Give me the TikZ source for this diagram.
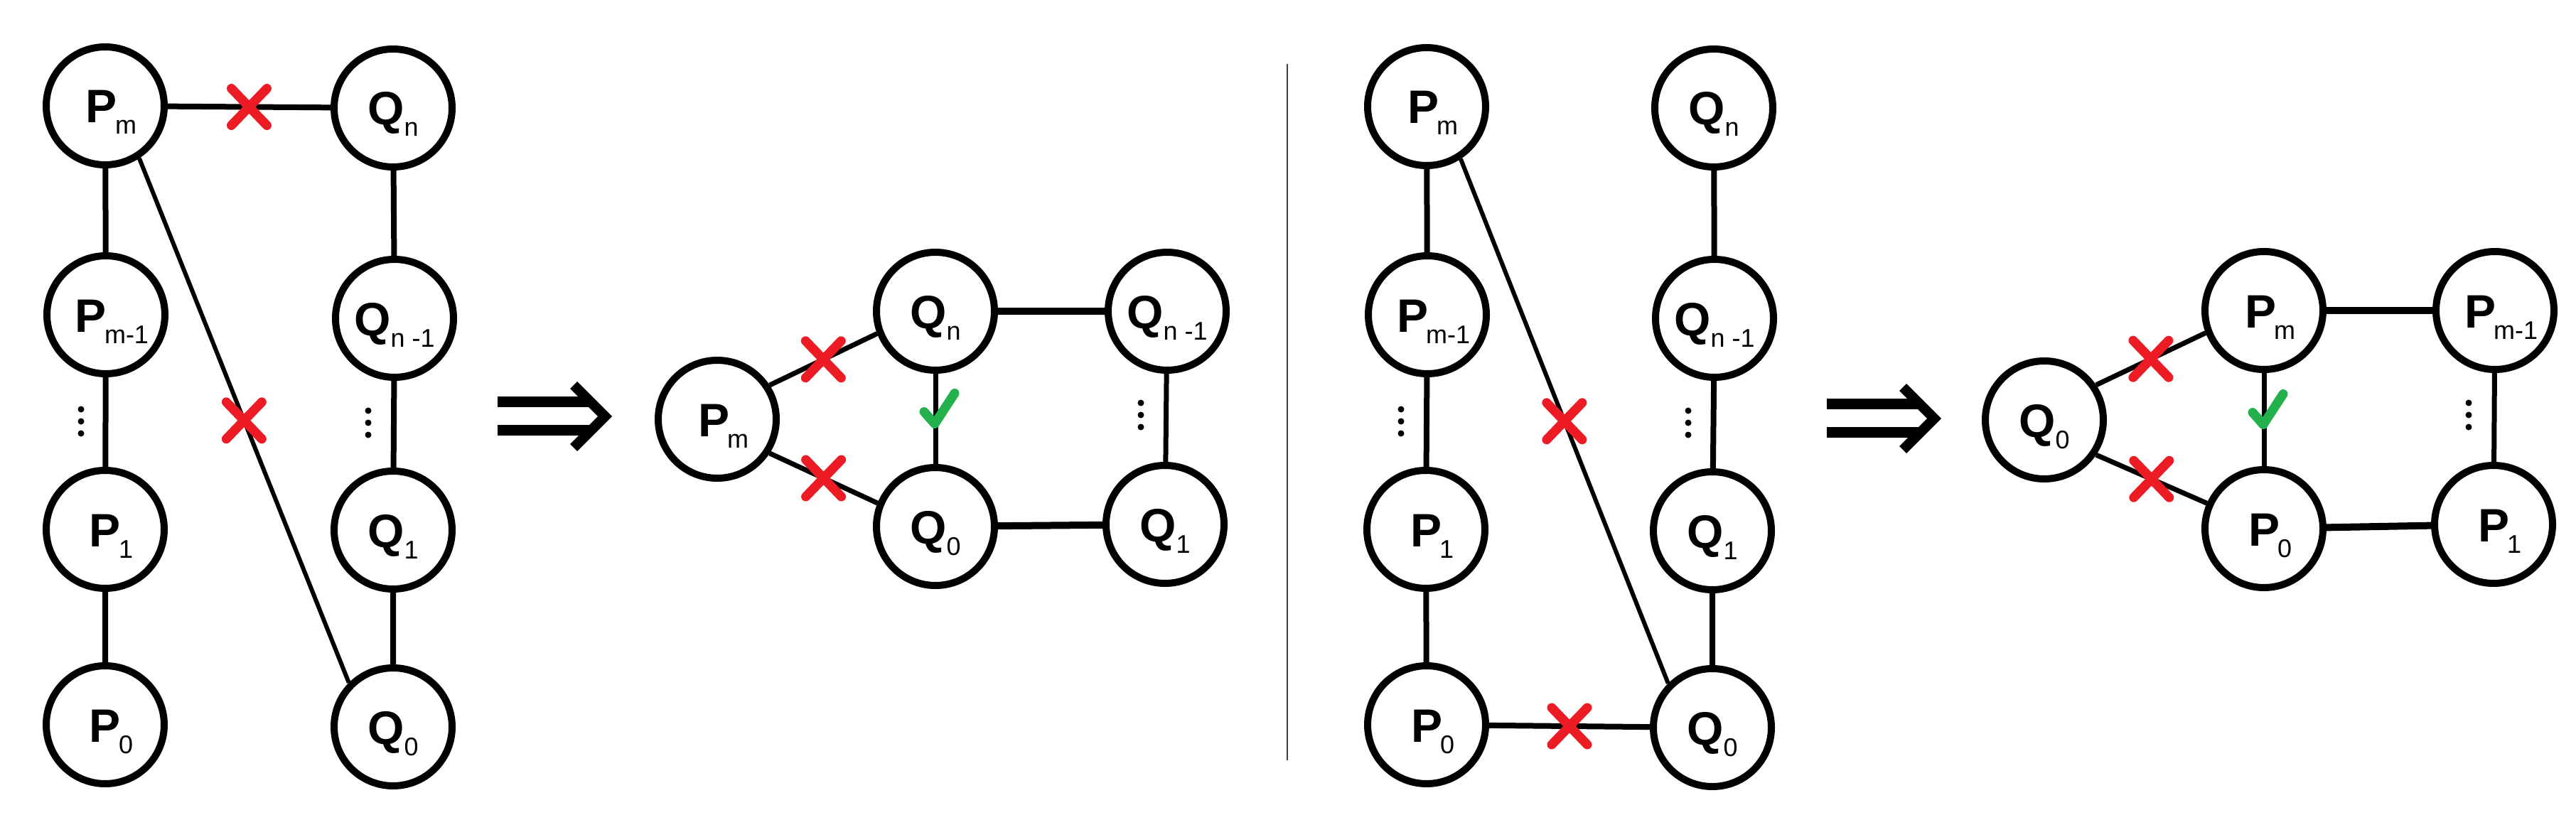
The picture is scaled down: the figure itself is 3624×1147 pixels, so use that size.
\documentclass[tikz,border=0pt]{standalone}
\usepackage{fontspec}
\setmainfont{Liberation Sans}
\usetikzlibrary{calc}
\definecolor{xred}{HTML}{ED1C24}
\definecolor{okgreen}{HTML}{22B14C}
\newcommand{\sbs}[1]{\raisebox{-16pt}{\fontsize{36}{36}\selectfont\mdseries #1}}
\newcommand{\Plab}[1]{P\kern-3pt\sbs{#1}\kern-17pt}
\newcommand{\Qlab}[1]{Q\sbs{#1}}
\begin{document}
\begin{tikzpicture}[x=1pt,y=-1pt,
  vtx/.style={circle,draw,line width=10pt,minimum size=166pt,inner sep=0pt,
    text height=48pt,text depth=0pt,font=\fontsize{66}{66}\selectfont\bfseries},
  edg/.style={line width=8pt},
  diagedg/.style={line width=6pt},
  midedg/.style={line width=7pt},
  wideedg/.style={line width=10pt},
  xmark/.pic={\draw[xred,line width=13pt,line cap=round] (-25,-26) -- (25,26) (-25,26) -- (25,-26);},
  okmark/.pic={\draw[okgreen,line width=13pt,line cap=round,line join=round] (-16,-10) -- (-1,7) -- (27,-36);},
  dotsv/.pic={\fill (0,-17) circle (4.5pt) (0,0) circle (4.5pt) (0,17) circle (4.5pt);},
  dblarrow/.pic={
    \fill (-161,-28) rectangle (-28,-13);
    \fill (-161,12) rectangle (-28,27);
    \fill (-49,-49) -- (0,0) -- (-49,49) -- (-59,39) -- (-20,0) -- (-59,-39) -- cycle;}
]
\useasboundingbox (0,0) rectangle (3624,1147);

% ---------- panel 1 ----------
\node[vtx] (aPm)  at (148,149)  {\Plab{m}};
\node[vtx] (aQn)  at (553,152)  {\Qlab{n}};
\node[vtx] (aPm1) at (149,443)  {\Plab{m-1}};
\node[vtx] (aQn1) at (555,448)  {\Qlab{n -1}};
\node[vtx] (aP1)  at (148,745)  {\Plab{1}};
\node[vtx] (aQ1)  at (553,746)  {\Qlab{1}};
\node[vtx] (aP0)  at (148,1020) {\Plab{0}};
\node[vtx] (aQ0)  at (553,1023) {\Qlab{0}};
\draw[edg] (aPm) -- coordinate (ax1) (aQn);
\draw[edg] (aPm) -- (aPm1) -- (aP1) -- (aP0);
\draw[edg] (aQn) -- (aQn1) -- (aQ1) -- (aQ0);
\draw[diagedg] (aPm.-57) -- coordinate (ax2) (aQ0.135);
\pic at (114,593) {dotsv};
\pic at (518,595) {dotsv};
\pic at (ax1) {xmark};
\pic at (ax2) {xmark};

% ---------- arrow 1 ----------
\pic at (861,586) {dblarrow};

% ---------- panel 2 ----------
\node[vtx] (bPm)  at (1009,590) {\Plab{m}};
\node[vtx] (bQn)  at (1316,438) {\Qlab{n}};
\node[vtx] (bQn1) at (1642,438) {\Qlab{n -1}};
\node[vtx] (bQ0)  at (1316,741) {\Qlab{0}};
\node[vtx] (bQ1)  at (1639,738) {\Qlab{1}};
\draw[midedg] (bPm.33) -- coordinate (bx1) (bQn.201);
\draw[midedg] (bPm.-33) -- coordinate (bx2) (bQ0.158);
\draw[midedg] (bQn) -- coordinate (bok) (bQ0);
\draw[wideedg] (bQn) -- (bQn1);
\draw[wideedg] (bQ0) -- (bQ1);
\draw[midedg] (bQn1) -- (bQ1);
\pic at (1605,584) {dotsv};
\pic at (bx1) {xmark};
\pic at (bx2) {xmark};
\pic at (bok) {okmark};

% ---------- separator ----------
\draw[line width=1.6pt,black!75] (1811,90) -- (1811,1070);

% ---------- panel 3 ----------
\node[vtx] (cPm)  at (2007,150)  {\Plab{m}};
\node[vtx] (cQn)  at (2411,152)  {\Qlab{n}};
\node[vtx] (cPm1) at (2008,443)  {\Plab{m-1}};
\node[vtx] (cQn1) at (2412,448)  {\Qlab{n -1}};
\node[vtx] (cP1)  at (2006,745)  {\Plab{1}};
\node[vtx] (cQ1)  at (2409,747)  {\Qlab{1}};
\node[vtx] (cP0)  at (2007,1020) {\Plab{0}};
\node[vtx] (cQ0)  at (2409,1024) {\Qlab{0}};
\draw[edg] (cPm) -- (cPm1) -- (cP1) -- (cP0);
\draw[edg] (cQn) -- (cQn1) -- (cQ1) -- (cQ0);
\draw[edg] (cP0) -- coordinate (cx2) (cQ0);
\draw[diagedg] (cPm.-57) -- coordinate (cx1) (cQ0.135);
\pic at (1971,593) {dotsv};
\pic at (2375,595) {dotsv};
\pic at (cx1) {xmark};
\pic at (cx2) {xmark};

% ---------- arrow 2 ----------
\pic at (2731,589) {dblarrow};

% ---------- panel 4 ----------
\node[vtx] (dQ0)  at (2876,591) {\Qlab{0}};
\node[vtx] (dPm)  at (3185,437) {\Plab{m}};
\node[vtx] (dPm1) at (3510,437) {\Plab{m-1}};
\node[vtx] (dP0)  at (3185,744) {\Plab{0}};
\node[vtx] (dP1)  at (3508,738) {\Plab{1}};
\draw[midedg] (dQ0.34) -- coordinate (dx1) (dPm.201);
\draw[midedg] (dQ0.-34) -- coordinate (dx2) (dP0.156);
\draw[midedg] (dPm) -- coordinate (dok) (dP0);
\draw[wideedg] (dPm) -- (dPm1);
\draw[wideedg] (dP0) -- (dP1);
\draw[midedg] (dPm1) -- (dP1);
\pic at (3473,584) {dotsv};
\pic at (dx1) {xmark};
\pic at (dx2) {xmark};
\pic at (dok) {okmark};
\end{tikzpicture}
\end{document}
